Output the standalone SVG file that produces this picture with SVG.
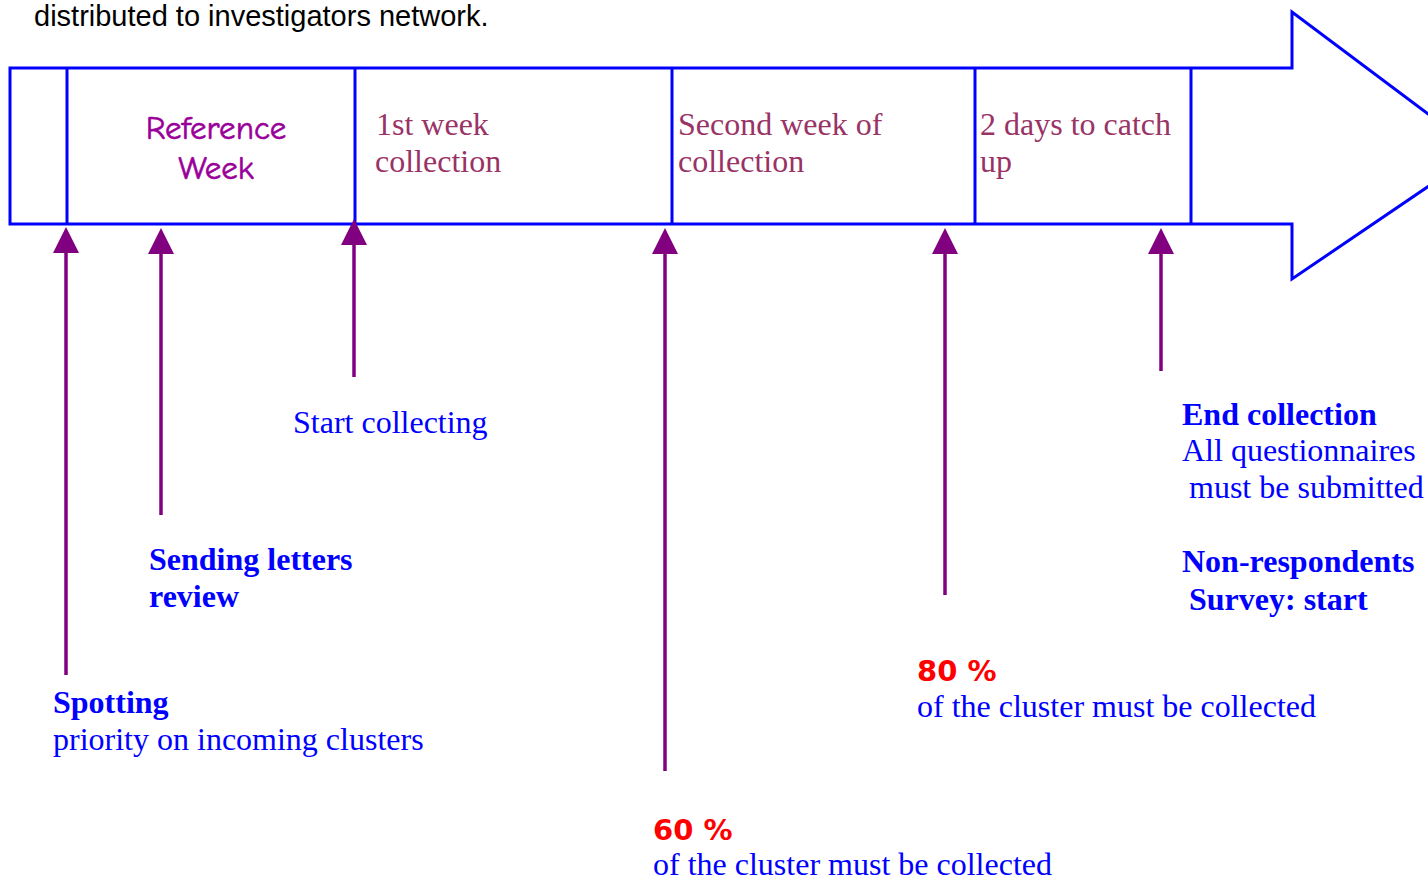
<svg xmlns="http://www.w3.org/2000/svg" width="1428" height="881" viewBox="0 0 1428 881">
<style>
.outline{fill:none;stroke:#0000FF;stroke-width:3;stroke-linejoin:miter}
.div{stroke:#0000FF;stroke-width:3}
.conn{stroke:#800080;stroke-width:3.5;fill:none}
.box{font-family:"Liberation Serif","Times New Roman",serif;font-size:32px;fill:#993366}
.ref{font-family:"Comic Sans MS","Comic Neue","DejaVu Sans",cursive;font-size:33px;fill:#990099;stroke:#990099;stroke-width:0.6;text-anchor:middle}
.lab{font-family:"Liberation Serif","Times New Roman",serif;font-size:32px;fill:#0000FF}
.b{font-weight:bold}
.pct{font-family:"DejaVu Sans","Liberation Sans",sans-serif;font-weight:bold;font-size:29px;fill:#FF0000}
.top{font-family:"Liberation Sans",Arial,sans-serif;font-size:29px;fill:#000000}
</style>
<defs>
<marker id="ah" markerUnits="userSpaceOnUse" markerWidth="26" markerHeight="26" refX="16" refY="13" orient="auto" viewBox="0 0 26 26">
<path d="M0,0 L26,13 L0,26 Z" fill="#800080"/>
</marker>
</defs>
<rect width="1428" height="881" fill="#FFFFFF"/>
<text class="top" x="34" y="26">distributed to investigators network.</text>
<g id="timeline">
<polygon class="outline" points="10,68 1292,68 1292,12 1479,152 1292,279 1292,224 10,224"/>
<line class="div" x1="67" y1="68" x2="67" y2="224"/>
<line class="div" x1="355" y1="68" x2="355" y2="224"/>
<line class="div" x1="672" y1="68" x2="672" y2="224"/>
<line class="div" x1="975" y1="68" x2="975" y2="224"/>
<line class="div" x1="1191" y1="68" x2="1191" y2="224"/>
</g>
<g id="reference-week">
<text class="ref" x="216" y="139">Reference</text>
<text class="ref" x="216" y="179">Week</text>
</g>
<g id="week1">
<text class="box" x="376" y="135">1st week</text>
<text class="box" x="375" y="172">collection</text>
</g>
<g id="week2">
<text class="box" x="678" y="135">Second week of</text>
<text class="box" x="678" y="172">collection</text>
</g>
<g id="catchup">
<text class="box" x="980" y="135">2 days to catch</text>
<text class="box" x="980" y="172">up</text>
</g>
<g id="connectors">
<line class="conn" x1="66" y1="675" x2="66" y2="237" marker-end="url(#ah)"/>
<line class="conn" x1="161" y1="515" x2="161" y2="238" marker-end="url(#ah)"/>
<line class="conn" x1="354" y1="377" x2="354" y2="229" marker-end="url(#ah)"/>
<line class="conn" x1="665" y1="771" x2="665" y2="238" marker-end="url(#ah)"/>
<line class="conn" x1="945" y1="595" x2="945" y2="238" marker-end="url(#ah)"/>
<line class="conn" x1="1161" y1="371" x2="1161" y2="238" marker-end="url(#ah)"/>
</g>
<g id="spotting">
<text class="lab b" x="53" y="713">Spotting</text>
<text class="lab" x="53" y="750">priority on incoming clusters</text>
</g>
<g id="sending-letters">
<text class="lab b" x="149" y="570">Sending letters</text>
<text class="lab b" x="149" y="607">review</text>
</g>
<g id="start-collecting">
<text class="lab" x="293" y="433">Start collecting</text>
</g>
<g id="sixty">
<text class="pct" x="653" y="840">60 %</text>
<text class="lab" x="653" y="875">of the cluster must be collected</text>
</g>
<g id="eighty">
<text class="pct" x="917" y="681">80 %</text>
<text class="lab" x="917" y="717">of the cluster must be collected</text>
</g>
<g id="end-collection">
<text class="lab b" x="1182" y="425">End collection</text>
<text class="lab" x="1182" y="461">All questionnaires</text>
<text class="lab" x="1189" y="498">must be submitted</text>
<text class="lab b" x="1182" y="572">Non-respondents</text>
<text class="lab b" x="1189" y="610">Survey: start</text>
</g>
</svg>
